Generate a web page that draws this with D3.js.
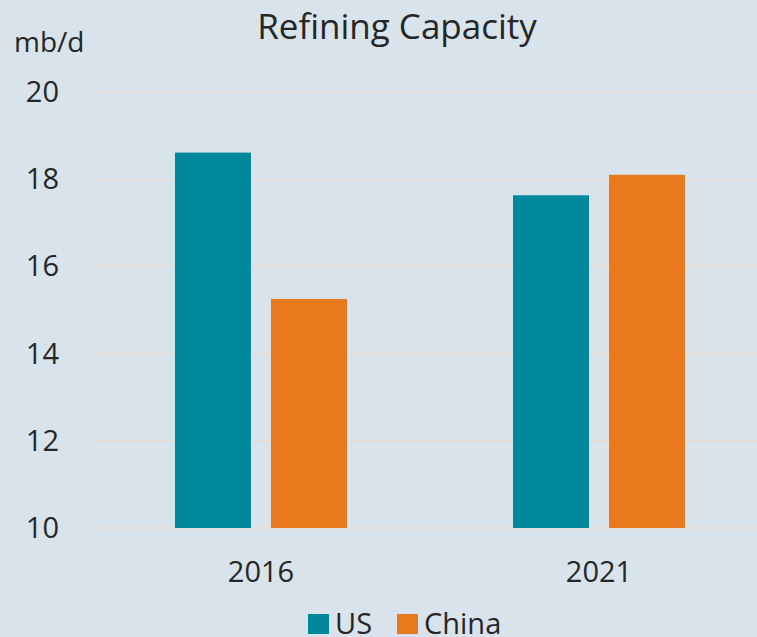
<!DOCTYPE html>
<html>
<head>
<meta charset="utf-8">
<script src="https://cdn.jsdelivr.net/npm/d3@7"></script>
<style>
  body { margin: 0; background: #d8e3ec; }
  svg { display: block; font-family: "Open Sans", "Noto Sans", sans-serif; }
</style>
</head>
<body>
<svg></svg>
<script>
    var years = ["2016", "2021"];
    var seriesNames = ["US", "China"];
    var usValues = [18.62, 17.64];
    var chinaValues = [15.26, 18.11];
    var yTicks = [10, 12, 14, 16, 18, 20];
    var colors = ["#00889c", "#e8791c"];

    var W = 757, H = 637;
    var plotLeft = 92, plotTop = 92.5, plotBottom = 528;

    var dataset = years.map(function(y, i) {
        return { year: y, US: usValues[i], China: chinaValues[i] };
    });

    var svg = d3.select("svg")
        .attr("width", W)
        .attr("height", H);

    svg.append("rect")
        .attr("width", W).attr("height", H)
        .attr("fill", "#d8e3ec");

    var xScale = d3.scaleBand()
        .domain(years)
        .range([plotLeft, plotLeft + 676])
        .padding(0);

    var x1 = d3.scaleBand()
        .domain(seriesNames)
        .range([83, 255])
        .paddingInner(20 / 96)
        .paddingOuter(0);

    var yScale = d3.scaleLinear()
        .domain([10, 20])
        .range([plotBottom, plotTop]);

    // gridlines
    svg.append("g")
        .selectAll("line")
        .data(yTicks)
        .enter().append("line")
        .attr("x1", plotLeft)
        .attr("x2", W)
        .attr("y1", function(d) { return yScale(d); })
        .attr("y2", function(d) { return yScale(d); })
        .attr("stroke", "#e3ddd9")
        .attr("stroke-width", 2);

    // bars
    svg.append("g")
        .selectAll("g")
        .data(dataset)
        .enter().append("g")
        .attr("transform", function(d) { return "translate(" + xScale(d.year) + ",0)"; })
        .selectAll("rect")
        .data(function(d) { return seriesNames.map(function(k) { return { key: k, value: d[k] }; }); })
        .enter().append("rect")
        .attr("x", function(d) { return x1(d.key); })
        .attr("y", function(d) { return yScale(d.value); })
        .attr("width", x1.bandwidth())
        .attr("height", function(d) { return yScale(10) - yScale(d.value); })
        .attr("fill", function(d, i) { return colors[i]; });

    // y axis
    var yAxis = d3.axisLeft(yScale)
        .tickValues(yTicks)
        .tickSize(0)
        .tickPadding(33);

    svg.append("g")
        .attr("transform", "translate(" + plotLeft + ",0)")
        .call(yAxis)
        .call(function(g) { g.select(".domain").remove(); })
        .selectAll("text")
        .attr("font-size", 29)
        .attr("font-family", "Open Sans, Noto Sans, sans-serif")
        .attr("fill", "#262626");

    // x axis
    var xAxis = d3.axisBottom(xScale).tickSize(0).tickPadding(33);

    svg.append("g")
        .attr("transform", "translate(0," + plotBottom + ")")
        .call(xAxis)
        .call(function(g) { g.select(".domain").remove(); })
        .selectAll("text")
        .attr("font-size", 29)
        .attr("font-family", "Open Sans, Noto Sans, sans-serif")
        .attr("fill", "#262626");

    // title and unit
    svg.append("text")
        .attr("x", 397)
        .attr("y", 39)
        .attr("text-anchor", "middle")
        .attr("font-size", 35)
        .attr("fill", "#262626")
        .text("Refining Capacity");

    svg.append("text")
        .attr("x", 14)
        .attr("y", 52)
        .attr("font-size", 28)
        .attr("fill", "#262626")
        .text("mb/d");

    // legend
    var legendX = [308, 397];
    var legend = svg.selectAll(".legend")
        .data(seriesNames)
        .enter().append("g")
        .attr("class", "legend")
        .attr("transform", function(d, i) { return "translate(" + legendX[i] + ",614)"; });

    legend.append("rect")
        .attr("width", 21)
        .attr("height", 20)
        .attr("fill", function(d, i) { return colors[i]; });

    legend.append("text")
        .attr("x", 27)
        .attr("y", 20)
        .attr("font-size", 29)
        .attr("fill", "#262626")
        .text(function(d) { return d; });
</script>
</body>
</html>
